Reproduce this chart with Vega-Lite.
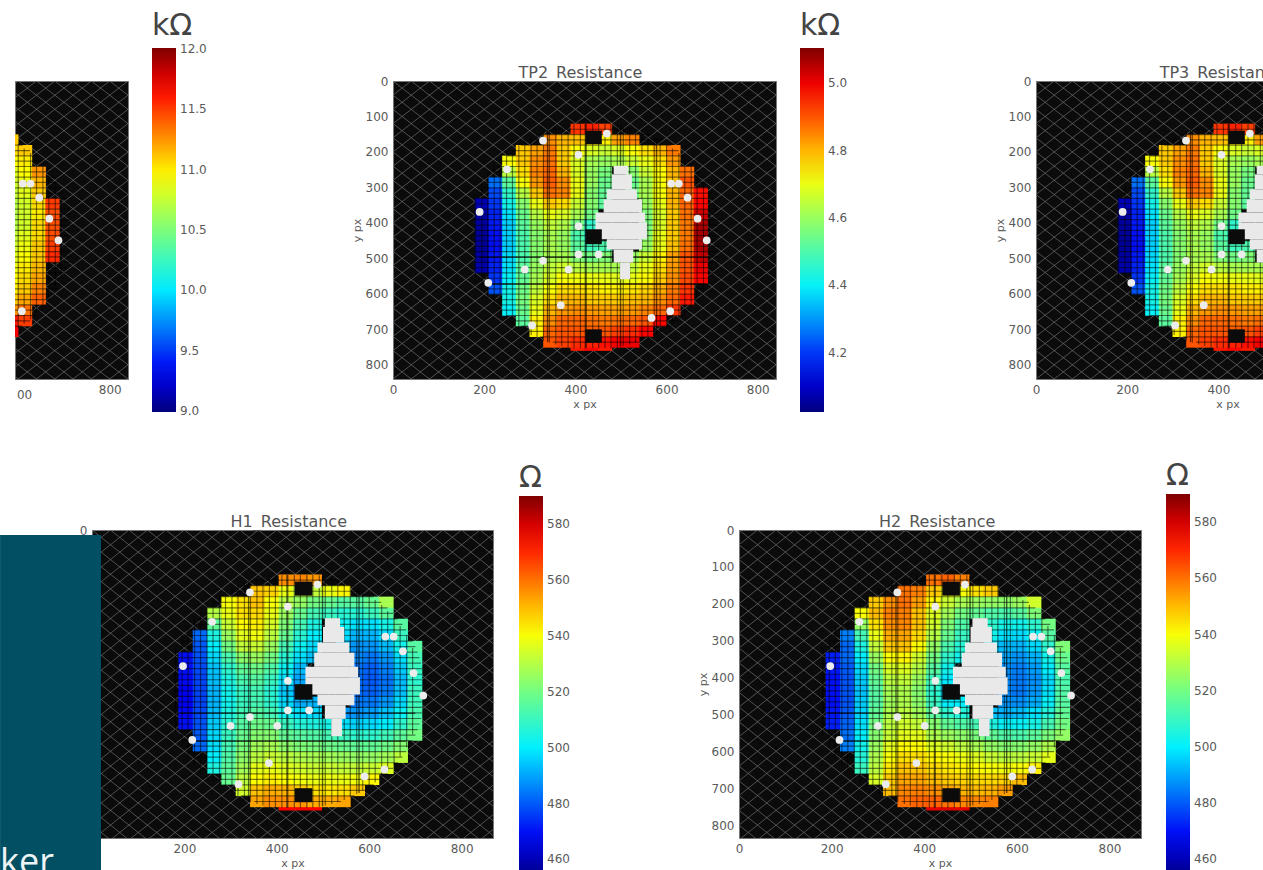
{"$schema":"https://vega.github.io/schema/vega-lite/v6.json","padding":{"left":-1,"top":10,"right":0,"bottom":0},"background":"white",
"datasets":{
"hatch":[{"x":0,"y":40,"x2":900,"y2":-860},{"x":0,"y":80,"x2":900,"y2":-820},{"x":0,"y":120,"x2":900,"y2":-780},{"x":0,"y":160,"x2":900,"y2":-740},{"x":0,"y":200,"x2":900,"y2":-700},{"x":0,"y":240,"x2":900,"y2":-660},{"x":0,"y":280,"x2":900,"y2":-620},{"x":0,"y":320,"x2":900,"y2":-580},{"x":0,"y":360,"x2":900,"y2":-540},{"x":0,"y":400,"x2":900,"y2":-500},{"x":0,"y":440,"x2":900,"y2":-460},{"x":0,"y":480,"x2":900,"y2":-420},{"x":0,"y":520,"x2":900,"y2":-380},{"x":0,"y":560,"x2":900,"y2":-340},{"x":0,"y":600,"x2":900,"y2":-300},{"x":0,"y":640,"x2":900,"y2":-260},{"x":0,"y":680,"x2":900,"y2":-220},{"x":0,"y":720,"x2":900,"y2":-180},{"x":0,"y":760,"x2":900,"y2":-140},{"x":0,"y":800,"x2":900,"y2":-100},{"x":0,"y":840,"x2":900,"y2":-60},{"x":0,"y":880,"x2":900,"y2":-20},{"x":0,"y":920,"x2":900,"y2":20},{"x":0,"y":960,"x2":900,"y2":60},{"x":0,"y":1000,"x2":900,"y2":100},{"x":0,"y":1040,"x2":900,"y2":140},{"x":0,"y":1080,"x2":900,"y2":180},{"x":0,"y":1120,"x2":900,"y2":220},{"x":0,"y":1160,"x2":900,"y2":260},{"x":0,"y":1200,"x2":900,"y2":300},{"x":0,"y":1240,"x2":900,"y2":340},{"x":0,"y":1280,"x2":900,"y2":380},{"x":0,"y":1320,"x2":900,"y2":420},{"x":0,"y":1360,"x2":900,"y2":460},{"x":0,"y":1400,"x2":900,"y2":500},{"x":0,"y":1440,"x2":900,"y2":540},{"x":0,"y":1480,"x2":900,"y2":580},{"x":0,"y":1520,"x2":900,"y2":620},{"x":0,"y":1560,"x2":900,"y2":660},{"x":0,"y":1600,"x2":900,"y2":700},{"x":0,"y":1640,"x2":900,"y2":740},{"x":0,"y":1680,"x2":900,"y2":780},{"x":0,"y":1720,"x2":900,"y2":820},{"x":0,"y":-880,"x2":900,"y2":20},{"x":0,"y":-840,"x2":900,"y2":60},{"x":0,"y":-800,"x2":900,"y2":100},{"x":0,"y":-760,"x2":900,"y2":140},{"x":0,"y":-720,"x2":900,"y2":180},{"x":0,"y":-680,"x2":900,"y2":220},{"x":0,"y":-640,"x2":900,"y2":260},{"x":0,"y":-600,"x2":900,"y2":300},{"x":0,"y":-560,"x2":900,"y2":340},{"x":0,"y":-520,"x2":900,"y2":380},{"x":0,"y":-480,"x2":900,"y2":420},{"x":0,"y":-440,"x2":900,"y2":460},{"x":0,"y":-400,"x2":900,"y2":500},{"x":0,"y":-360,"x2":900,"y2":540},{"x":0,"y":-320,"x2":900,"y2":580},{"x":0,"y":-280,"x2":900,"y2":620},{"x":0,"y":-240,"x2":900,"y2":660},{"x":0,"y":-200,"x2":900,"y2":700},{"x":0,"y":-160,"x2":900,"y2":740},{"x":0,"y":-120,"x2":900,"y2":780},{"x":0,"y":-80,"x2":900,"y2":820},{"x":0,"y":-40,"x2":900,"y2":860},{"x":0,"y":0,"x2":900,"y2":900},{"x":0,"y":40,"x2":900,"y2":940},{"x":0,"y":80,"x2":900,"y2":980},{"x":0,"y":120,"x2":900,"y2":1020},{"x":0,"y":160,"x2":900,"y2":1060},{"x":0,"y":200,"x2":900,"y2":1100},{"x":0,"y":240,"x2":900,"y2":1140},{"x":0,"y":280,"x2":900,"y2":1180},{"x":0,"y":320,"x2":900,"y2":1220},{"x":0,"y":360,"x2":900,"y2":1260},{"x":0,"y":400,"x2":900,"y2":1300},{"x":0,"y":440,"x2":900,"y2":1340},{"x":0,"y":480,"x2":900,"y2":1380},{"x":0,"y":520,"x2":900,"y2":1420},{"x":0,"y":560,"x2":900,"y2":1460},{"x":0,"y":600,"x2":900,"y2":1500},{"x":0,"y":640,"x2":900,"y2":1540},{"x":0,"y":680,"x2":900,"y2":1580},{"x":0,"y":720,"x2":900,"y2":1620},{"x":0,"y":760,"x2":900,"y2":1660},{"x":0,"y":800,"x2":900,"y2":1700},{"x":0,"y":840,"x2":900,"y2":1740}],
"gridV":[{"x":181,"y":320,"y2":554},{"x":195,"y":285,"y2":589},{"x":208,"y":260,"y2":614},{"x":222,"y":238,"y2":636},{"x":235,"y":220,"y2":654},{"x":249,"y":203,"y2":671},{"x":262,"y":190,"y2":684},{"x":276,"y":178,"y2":696},{"x":289,"y":167,"y2":707},{"x":303,"y":158,"y2":716},{"x":316,"y":150,"y2":724},{"x":330,"y":142,"y2":732},{"x":343,"y":136,"y2":738},{"x":357,"y":131,"y2":743},{"x":370,"y":127,"y2":747},{"x":384,"y":123,"y2":751},{"x":397,"y":121,"y2":753},{"x":411,"y":121,"y2":753},{"x":424,"y":121,"y2":753},{"x":438,"y":121,"y2":753},{"x":451,"y":121,"y2":753},{"x":465,"y":121,"y2":753},{"x":478,"y":121,"y2":753},{"x":492,"y":123,"y2":751},{"x":505,"y":127,"y2":747},{"x":519,"y":131,"y2":743},{"x":532,"y":136,"y2":738},{"x":546,"y":142,"y2":732},{"x":559,"y":150,"y2":724},{"x":573,"y":158,"y2":716},{"x":586,"y":167,"y2":707},{"x":600,"y":178,"y2":696},{"x":613,"y":190,"y2":684},{"x":627,"y":203,"y2":671},{"x":640,"y":220,"y2":654},{"x":654,"y":238,"y2":636},{"x":667,"y":260,"y2":614},{"x":681,"y":285,"y2":589},{"x":694,"y":320,"y2":554}],
"gridH":[{"y":136,"x":351,"x2":539},{"y":151,"x":322,"x2":568},{"y":166,"x":299,"x2":591},{"y":181,"x":280,"x2":610},{"y":196,"x":264,"x2":626},{"y":211,"x":250,"x2":640},{"y":226,"x":238,"x2":652},{"y":241,"x":228,"x2":662},{"y":256,"x":218,"x2":672},{"y":271,"x":210,"x2":680},{"y":286,"x":203,"x2":687},{"y":301,"x":196,"x2":694},{"y":316,"x":190,"x2":700},{"y":331,"x":185,"x2":705},{"y":346,"x":181,"x2":709},{"y":361,"x":178,"x2":712},{"y":376,"x":178,"x2":714},{"y":391,"x":178,"x2":714},{"y":406,"x":178,"x2":714},{"y":421,"x":178,"x2":714},{"y":436,"x":178,"x2":714},{"y":451,"x":178,"x2":714},{"y":466,"x":178,"x2":714},{"y":481,"x":178,"x2":714},{"y":496,"x":178,"x2":714},{"y":511,"x":178,"x2":712},{"y":526,"x":181,"x2":709},{"y":541,"x":185,"x2":705},{"y":556,"x":190,"x2":700},{"y":571,"x":196,"x2":694},{"y":586,"x":203,"x2":687},{"y":601,"x":210,"x2":680},{"y":616,"x":218,"x2":672},{"y":631,"x":228,"x2":662},{"y":646,"x":238,"x2":652},{"y":661,"x":250,"x2":640},{"y":676,"x":264,"x2":626},{"y":691,"x":280,"x2":610},{"y":706,"x":299,"x2":591},{"y":721,"x":322,"x2":568},{"y":736,"x":351,"x2":539}],
"heavyV":[{"x":339,"y":138,"y2":736},{"x":422,"y":121,"y2":753},{"x":499,"y":125,"y2":749},{"x":578,"y":161,"y2":713}],
"heavyH":[{"y":497,"x":190,"x2":700},{"y":573,"x":210,"x2":680}],
"dots":[{"x":329,"y":168},{"x":469,"y":148},{"x":407,"y":208},{"x":250,"y":249},{"x":610,"y":289},{"x":627,"y":289},{"x":646,"y":329},{"x":668,"y":388},{"x":688,"y":449},{"x":190,"y":369},{"x":209,"y":569},{"x":407,"y":409},{"x":407,"y":489},{"x":451,"y":489},{"x":329,"y":507},{"x":289,"y":531},{"x":385,"y":531},{"x":368,"y":632},{"x":567,"y":668},{"x":608,"y":649},{"x":305,"y":689}],
"dotsH":[{"x":342,"y":169},{"x":488,"y":148},{"x":424,"y":208},{"x":260,"y":249},{"x":635,"y":289},{"x":653,"y":289},{"x":673,"y":329},{"x":696,"y":388},{"x":717,"y":449},{"x":197,"y":369},{"x":217,"y":569},{"x":424,"y":409},{"x":424,"y":489},{"x":470,"y":489},{"x":342,"y":507},{"x":300,"y":531},{"x":401,"y":531},{"x":383,"y":632},{"x":590,"y":668},{"x":633,"y":649},{"x":317,"y":689}],
"void":[{"x":484,"x2":516,"y":239,"y2":263},{"x":480,"x2":524,"y":263,"y2":305},{"x":469,"x2":535,"y":305,"y2":333},{"x":462,"x2":546,"y":333,"y2":371},{"x":444,"x2":553,"y":371,"y2":399},{"x":444,"x2":557,"y":399,"y2":446},{"x":469,"x2":546,"y":446,"y2":475},{"x":484,"x2":527,"y":475,"y2":512},{"x":498,"x2":520,"y":512,"y2":559}],
"voidH":[{"x":504,"x2":537,"y":239,"y2":263},{"x":500,"x2":546,"y":263,"y2":305},{"x":488,"x2":557,"y":305,"y2":333},{"x":481,"x2":568,"y":333,"y2":371},{"x":462,"x2":576,"y":371,"y2":399},{"x":462,"x2":580,"y":399,"y2":446},{"x":488,"x2":568,"y":446,"y2":475},{"x":504,"x2":549,"y":475,"y2":512},{"x":518,"x2":541,"y":512,"y2":559}],
"die":[{"x":422,"x2":458,"y":140,"y2":178},{"x":422,"x2":458,"y":418,"y2":460},{"x":422,"x2":458,"y":700,"y2":738}],
"dieH":[{"x":439,"x2":477,"y":140,"y2":178},{"x":439,"x2":477,"y":418,"y2":460},{"x":439,"x2":477,"y":700,"y2":738}],
"tp2":[{"x":405,"y":745,"v":4.96},{"x":435,"y":745,"v":4.98},{"x":465,"y":745,"v":4.96},
{"x":405,"y":136,"v":4.93},{"x":435,"y":136,"v":4.95},{"x":465,"y":136,"v":4.92},
{"x":345,"y":166,"v":4.84},{"x":375,"y":166,"v":4.8},{"x":405,"y":166,"v":4.79},{"x":435,"y":166,"v":4.76},{"x":465,"y":166,"v":4.74},{"x":495,"y":166,"v":4.82},{"x":525,"y":166,"v":4.85},
{"x":285,"y":196,"v":4.78},{"x":315,"y":196,"v":4.82},{"x":345,"y":196,"v":4.86},{"x":375,"y":196,"v":4.78},{"x":405,"y":196,"v":4.72},{"x":435,"y":196,"v":4.68},{"x":465,"y":196,"v":4.66},{"x":495,"y":196,"v":4.68},{"x":525,"y":196,"v":4.72},{"x":555,"y":196,"v":4.76},{"x":585,"y":196,"v":4.8},{"x":615,"y":196,"v":4.86},
{"x":255,"y":226,"v":4.72},{"x":285,"y":226,"v":4.78},{"x":315,"y":226,"v":4.84},{"x":345,"y":226,"v":4.87},{"x":375,"y":226,"v":4.78},{"x":405,"y":226,"v":4.68},{"x":435,"y":226,"v":4.62},{"x":465,"y":226,"v":4.6},{"x":495,"y":226,"v":4.62},{"x":525,"y":226,"v":4.66},{"x":555,"y":226,"v":4.7},{"x":585,"y":226,"v":4.76},{"x":615,"y":226,"v":4.83},
{"x":255,"y":256,"v":4.64},{"x":285,"y":256,"v":4.76},{"x":315,"y":256,"v":4.85},{"x":345,"y":256,"v":4.88},{"x":375,"y":256,"v":4.8},{"x":405,"y":256,"v":4.68},{"x":435,"y":256,"v":4.6},{"x":465,"y":256,"v":4.56},{"x":525,"y":256,"v":4.58},{"x":555,"y":256,"v":4.66},{"x":585,"y":256,"v":4.73},{"x":615,"y":256,"v":4.8},{"x":645,"y":256,"v":4.87},
{"x":225,"y":286,"v":4.26},{"x":255,"y":286,"v":4.52},{"x":285,"y":286,"v":4.72},{"x":315,"y":286,"v":4.83},{"x":345,"y":286,"v":4.89},{"x":375,"y":286,"v":4.84},{"x":405,"y":286,"v":4.7},{"x":435,"y":286,"v":4.6},{"x":465,"y":286,"v":4.54},{"x":525,"y":286,"v":4.54},{"x":555,"y":286,"v":4.62},{"x":585,"y":286,"v":4.72},{"x":615,"y":286,"v":4.79},{"x":645,"y":286,"v":4.9},
{"x":225,"y":316,"v":4.22},{"x":255,"y":316,"v":4.46},{"x":285,"y":316,"v":4.64},{"x":315,"y":316,"v":4.78},{"x":345,"y":316,"v":4.87},{"x":375,"y":316,"v":4.85},{"x":405,"y":316,"v":4.7},{"x":435,"y":316,"v":4.58},{"x":465,"y":316,"v":4.53},{"x":525,"y":316,"v":4.55},{"x":555,"y":316,"v":4.62},{"x":585,"y":316,"v":4.72},{"x":615,"y":316,"v":4.8},{"x":645,"y":316,"v":4.88},{"x":675,"y":316,"v":4.97},
{"x":195,"y":346,"v":4.08},{"x":225,"y":346,"v":4.2},{"x":255,"y":346,"v":4.42},{"x":285,"y":346,"v":4.58},{"x":315,"y":346,"v":4.7},{"x":345,"y":346,"v":4.78},{"x":375,"y":346,"v":4.76},{"x":405,"y":346,"v":4.66},{"x":435,"y":346,"v":4.58},{"x":465,"y":346,"v":4.52},{"x":555,"y":346,"v":4.6},{"x":585,"y":346,"v":4.7},{"x":615,"y":346,"v":4.8},{"x":645,"y":346,"v":4.88},{"x":675,"y":346,"v":4.98},
{"x":195,"y":376,"v":4.06},{"x":225,"y":376,"v":4.18},{"x":255,"y":376,"v":4.38},{"x":285,"y":376,"v":4.54},{"x":315,"y":376,"v":4.64},{"x":345,"y":376,"v":4.7},{"x":375,"y":376,"v":4.68},{"x":405,"y":376,"v":4.62},{"x":435,"y":376,"v":4.55},{"x":555,"y":376,"v":4.57},{"x":585,"y":376,"v":4.68},{"x":615,"y":376,"v":4.78},{"x":645,"y":376,"v":4.87},{"x":675,"y":376,"v":5.03},
{"x":195,"y":406,"v":4.06},{"x":225,"y":406,"v":4.17},{"x":255,"y":406,"v":4.36},{"x":285,"y":406,"v":4.52},{"x":315,"y":406,"v":4.6},{"x":345,"y":406,"v":4.65},{"x":375,"y":406,"v":4.63},{"x":405,"y":406,"v":4.55},{"x":435,"y":406,"v":4.46},{"x":555,"y":406,"v":4.56},{"x":585,"y":406,"v":4.68},{"x":615,"y":406,"v":4.78},{"x":645,"y":406,"v":4.86},{"x":675,"y":406,"v":5.06},
{"x":195,"y":436,"v":4.05},{"x":225,"y":436,"v":4.16},{"x":255,"y":436,"v":4.36},{"x":285,"y":436,"v":4.5},{"x":315,"y":436,"v":4.58},{"x":345,"y":436,"v":4.62},{"x":375,"y":436,"v":4.6},{"x":405,"y":436,"v":4.5},{"x":435,"y":436,"v":4.45},{"x":555,"y":436,"v":4.58},{"x":585,"y":436,"v":4.7},{"x":615,"y":436,"v":4.78},{"x":645,"y":436,"v":4.86},{"x":675,"y":436,"v":5.07},
{"x":195,"y":466,"v":4.05},{"x":225,"y":466,"v":4.16},{"x":255,"y":466,"v":4.36},{"x":285,"y":466,"v":4.5},{"x":315,"y":466,"v":4.58},{"x":345,"y":466,"v":4.62},{"x":375,"y":466,"v":4.6},{"x":405,"y":466,"v":4.52},{"x":435,"y":466,"v":4.48},{"x":465,"y":466,"v":4.5},{"x":555,"y":466,"v":4.6},{"x":585,"y":466,"v":4.7},{"x":615,"y":466,"v":4.79},{"x":645,"y":466,"v":4.87},{"x":675,"y":466,"v":5.06},
{"x":195,"y":496,"v":4.06},{"x":225,"y":496,"v":4.17},{"x":255,"y":496,"v":4.37},{"x":285,"y":496,"v":4.5},{"x":315,"y":496,"v":4.58},{"x":345,"y":496,"v":4.62},{"x":375,"y":496,"v":4.62},{"x":405,"y":496,"v":4.57},{"x":435,"y":496,"v":4.55},{"x":465,"y":496,"v":4.57},{"x":525,"y":496,"v":4.6},{"x":555,"y":496,"v":4.66},{"x":585,"y":496,"v":4.74},{"x":615,"y":496,"v":4.82},{"x":645,"y":496,"v":4.9},{"x":675,"y":496,"v":5.04},
{"x":195,"y":526,"v":4.07},{"x":225,"y":526,"v":4.18},{"x":255,"y":526,"v":4.38},{"x":285,"y":526,"v":4.52},{"x":315,"y":526,"v":4.6},{"x":345,"y":526,"v":4.65},{"x":375,"y":526,"v":4.67},{"x":405,"y":526,"v":4.64},{"x":435,"y":526,"v":4.62},{"x":465,"y":526,"v":4.62},{"x":495,"y":526,"v":4.62},{"x":525,"y":526,"v":4.66},{"x":555,"y":526,"v":4.7},{"x":585,"y":526,"v":4.76},{"x":615,"y":526,"v":4.83},{"x":645,"y":526,"v":4.9},{"x":675,"y":526,"v":5.0},
{"x":225,"y":556,"v":4.2},{"x":255,"y":556,"v":4.4},{"x":285,"y":556,"v":4.53},{"x":315,"y":556,"v":4.62},{"x":345,"y":556,"v":4.68},{"x":375,"y":556,"v":4.72},{"x":405,"y":556,"v":4.71},{"x":435,"y":556,"v":4.7},{"x":465,"y":556,"v":4.7},{"x":495,"y":556,"v":4.69},{"x":525,"y":556,"v":4.7},{"x":555,"y":556,"v":4.73},{"x":585,"y":556,"v":4.78},{"x":615,"y":556,"v":4.84},{"x":645,"y":556,"v":4.91},{"x":675,"y":556,"v":4.98},
{"x":225,"y":586,"v":4.23},{"x":255,"y":586,"v":4.42},{"x":285,"y":586,"v":4.55},{"x":315,"y":586,"v":4.65},{"x":345,"y":586,"v":4.72},{"x":375,"y":586,"v":4.76},{"x":405,"y":586,"v":4.76},{"x":435,"y":586,"v":4.75},{"x":465,"y":586,"v":4.74},{"x":495,"y":586,"v":4.74},{"x":525,"y":586,"v":4.75},{"x":555,"y":586,"v":4.77},{"x":585,"y":586,"v":4.81},{"x":615,"y":586,"v":4.86},{"x":645,"y":586,"v":4.93},
{"x":255,"y":616,"v":4.42},{"x":285,"y":616,"v":4.56},{"x":315,"y":616,"v":4.68},{"x":345,"y":616,"v":4.76},{"x":375,"y":616,"v":4.8},{"x":405,"y":616,"v":4.8},{"x":435,"y":616,"v":4.78},{"x":465,"y":616,"v":4.78},{"x":495,"y":616,"v":4.78},{"x":525,"y":616,"v":4.79},{"x":555,"y":616,"v":4.8},{"x":585,"y":616,"v":4.84},{"x":615,"y":616,"v":4.88},{"x":645,"y":616,"v":4.96},
{"x":255,"y":646,"v":4.4},{"x":285,"y":646,"v":4.54},{"x":315,"y":646,"v":4.7},{"x":345,"y":646,"v":4.8},{"x":375,"y":646,"v":4.83},{"x":405,"y":646,"v":4.84},{"x":435,"y":646,"v":4.83},{"x":465,"y":646,"v":4.82},{"x":495,"y":646,"v":4.82},{"x":525,"y":646,"v":4.83},{"x":555,"y":646,"v":4.85},{"x":585,"y":646,"v":4.88},{"x":615,"y":646,"v":4.93},
{"x":285,"y":676,"v":4.52},{"x":315,"y":676,"v":4.74},{"x":345,"y":676,"v":4.84},{"x":375,"y":676,"v":4.88},{"x":405,"y":676,"v":4.88},{"x":435,"y":676,"v":4.87},{"x":465,"y":676,"v":4.86},{"x":495,"y":676,"v":4.87},{"x":525,"y":676,"v":4.88},{"x":555,"y":676,"v":4.9},{"x":585,"y":676,"v":4.98},
{"x":315,"y":706,"v":4.74},{"x":345,"y":706,"v":4.88},{"x":375,"y":706,"v":4.9},{"x":405,"y":706,"v":4.9},{"x":435,"y":706,"v":4.89},{"x":465,"y":706,"v":4.9},{"x":495,"y":706,"v":4.92},{"x":525,"y":706,"v":4.94},{"x":555,"y":706,"v":4.98},
{"x":345,"y":736,"v":4.9},{"x":375,"y":736,"v":4.92},{"x":405,"y":736,"v":4.94},{"x":435,"y":736,"v":4.95},{"x":465,"y":736,"v":4.97},{"x":495,"y":736,"v":4.99},{"x":525,"y":736,"v":5.0}],
"h1":[{"x":420,"y":745,"v":575},{"x":451,"y":745,"v":576},{"x":482,"y":745,"v":575},
{"x":420,"y":136,"v":556},{"x":451,"y":136,"v":557},{"x":482,"y":136,"v":555},
{"x":358,"y":166,"v":549},{"x":389,"y":166,"v":547},{"x":420,"y":166,"v":538},{"x":451,"y":166,"v":532},{"x":482,"y":166,"v":532},{"x":513,"y":166,"v":538},{"x":544,"y":166,"v":542},
{"x":296,"y":196,"v":540},{"x":327,"y":196,"v":545},{"x":358,"y":196,"v":549},{"x":389,"y":196,"v":540},{"x":420,"y":196,"v":530},{"x":451,"y":196,"v":525},{"x":482,"y":196,"v":520},{"x":513,"y":196,"v":518},{"x":544,"y":196,"v":515},{"x":575,"y":196,"v":515},{"x":606,"y":196,"v":518},{"x":637,"y":196,"v":528},
{"x":265,"y":226,"v":530},{"x":296,"y":226,"v":538},{"x":327,"y":226,"v":545},{"x":358,"y":226,"v":546},{"x":389,"y":226,"v":538},{"x":420,"y":226,"v":526},{"x":451,"y":226,"v":518},{"x":482,"y":226,"v":512},{"x":513,"y":226,"v":510},{"x":544,"y":226,"v":507},{"x":575,"y":226,"v":507},{"x":606,"y":226,"v":510},{"x":637,"y":226,"v":516},
{"x":265,"y":256,"v":517},{"x":296,"y":256,"v":533},{"x":327,"y":256,"v":541},{"x":358,"y":256,"v":543},{"x":389,"y":256,"v":535},{"x":420,"y":256,"v":522},{"x":451,"y":256,"v":512},{"x":482,"y":256,"v":505},{"x":544,"y":256,"v":502},{"x":575,"y":256,"v":498},{"x":606,"y":256,"v":498},{"x":637,"y":256,"v":504},{"x":668,"y":256,"v":515},
{"x":234,"y":286,"v":482},{"x":265,"y":286,"v":505},{"x":296,"y":286,"v":526},{"x":327,"y":286,"v":537},{"x":358,"y":286,"v":539},{"x":389,"y":286,"v":531},{"x":420,"y":286,"v":518},{"x":451,"y":286,"v":507},{"x":482,"y":286,"v":500},{"x":544,"y":286,"v":497},{"x":575,"y":286,"v":492},{"x":606,"y":286,"v":492},{"x":637,"y":286,"v":497},{"x":668,"y":286,"v":510},
{"x":234,"y":316,"v":480},{"x":265,"y":316,"v":500},{"x":296,"y":316,"v":520},{"x":327,"y":316,"v":532},{"x":358,"y":316,"v":533},{"x":389,"y":316,"v":526},{"x":420,"y":316,"v":512},{"x":451,"y":316,"v":502},{"x":482,"y":316,"v":497},{"x":544,"y":316,"v":493},{"x":575,"y":316,"v":488},{"x":606,"y":316,"v":488},{"x":637,"y":316,"v":493},{"x":668,"y":316,"v":503},{"x":699,"y":316,"v":515},
{"x":203,"y":346,"v":470},{"x":234,"y":346,"v":479},{"x":265,"y":346,"v":497},{"x":296,"y":346,"v":513},{"x":327,"y":346,"v":524},{"x":358,"y":346,"v":526},{"x":389,"y":346,"v":520},{"x":420,"y":346,"v":507},{"x":451,"y":346,"v":498},{"x":482,"y":346,"v":494},{"x":575,"y":346,"v":486},{"x":606,"y":346,"v":484},{"x":637,"y":346,"v":488},{"x":668,"y":346,"v":498},{"x":699,"y":346,"v":512},
{"x":203,"y":376,"v":470},{"x":234,"y":376,"v":478},{"x":265,"y":376,"v":494},{"x":296,"y":376,"v":508},{"x":327,"y":376,"v":517},{"x":358,"y":376,"v":519},{"x":389,"y":376,"v":514},{"x":420,"y":376,"v":502},{"x":451,"y":376,"v":493},{"x":575,"y":376,"v":483},{"x":606,"y":376,"v":481},{"x":637,"y":376,"v":485},{"x":668,"y":376,"v":495},{"x":699,"y":376,"v":510},
{"x":203,"y":406,"v":469},{"x":234,"y":406,"v":477},{"x":265,"y":406,"v":493},{"x":296,"y":406,"v":505},{"x":327,"y":406,"v":513},{"x":358,"y":406,"v":515},{"x":389,"y":406,"v":510},{"x":420,"y":406,"v":498},{"x":451,"y":406,"v":490},{"x":575,"y":406,"v":482},{"x":606,"y":406,"v":480},{"x":637,"y":406,"v":483},{"x":668,"y":406,"v":493},{"x":699,"y":406,"v":508},
{"x":203,"y":436,"v":468},{"x":234,"y":436,"v":477},{"x":265,"y":436,"v":492},{"x":296,"y":436,"v":503},{"x":327,"y":436,"v":510},{"x":358,"y":436,"v":512},{"x":389,"y":436,"v":507},{"x":420,"y":436,"v":495},{"x":451,"y":436,"v":488},{"x":575,"y":436,"v":482},{"x":606,"y":436,"v":481},{"x":637,"y":436,"v":484},{"x":668,"y":436,"v":494},{"x":699,"y":436,"v":510},
{"x":203,"y":466,"v":468},{"x":234,"y":466,"v":477},{"x":265,"y":466,"v":492},{"x":296,"y":466,"v":503},{"x":327,"y":466,"v":510},{"x":358,"y":466,"v":512},{"x":389,"y":466,"v":508},{"x":420,"y":466,"v":497},{"x":451,"y":466,"v":491},{"x":482,"y":466,"v":492},{"x":575,"y":466,"v":484},{"x":606,"y":466,"v":484},{"x":637,"y":466,"v":488},{"x":668,"y":466,"v":497},{"x":699,"y":466,"v":511},
{"x":203,"y":496,"v":469},{"x":234,"y":496,"v":478},{"x":265,"y":496,"v":493},{"x":296,"y":496,"v":505},{"x":327,"y":496,"v":512},{"x":358,"y":496,"v":515},{"x":389,"y":496,"v":512},{"x":420,"y":496,"v":503},{"x":451,"y":496,"v":498},{"x":482,"y":496,"v":497},{"x":544,"y":496,"v":488},{"x":575,"y":496,"v":488},{"x":606,"y":496,"v":489},{"x":637,"y":496,"v":494},{"x":668,"y":496,"v":502},{"x":699,"y":496,"v":513},
{"x":203,"y":526,"v":470},{"x":234,"y":526,"v":479},{"x":265,"y":526,"v":495},{"x":296,"y":526,"v":507},{"x":327,"y":526,"v":515},{"x":358,"y":526,"v":519},{"x":389,"y":526,"v":518},{"x":420,"y":526,"v":510},{"x":451,"y":526,"v":506},{"x":482,"y":526,"v":505},{"x":513,"y":526,"v":504},{"x":544,"y":526,"v":498},{"x":575,"y":526,"v":496},{"x":606,"y":526,"v":497},{"x":637,"y":526,"v":500},{"x":668,"y":526,"v":508},{"x":699,"y":526,"v":516},
{"x":234,"y":556,"v":480},{"x":265,"y":556,"v":497},{"x":296,"y":556,"v":510},{"x":327,"y":556,"v":518},{"x":358,"y":556,"v":523},{"x":389,"y":556,"v":523},{"x":420,"y":556,"v":517},{"x":451,"y":556,"v":515},{"x":482,"y":556,"v":514},{"x":513,"y":556,"v":512},{"x":544,"y":556,"v":510},{"x":575,"y":556,"v":508},{"x":606,"y":556,"v":508},{"x":637,"y":556,"v":511},{"x":668,"y":556,"v":516},{"x":699,"y":556,"v":520},
{"x":234,"y":586,"v":482},{"x":265,"y":586,"v":498},{"x":296,"y":586,"v":512},{"x":327,"y":586,"v":521},{"x":358,"y":586,"v":527},{"x":389,"y":586,"v":528},{"x":420,"y":586,"v":524},{"x":451,"y":586,"v":522},{"x":482,"y":586,"v":521},{"x":513,"y":586,"v":519},{"x":544,"y":586,"v":518},{"x":575,"y":586,"v":517},{"x":606,"y":586,"v":517},{"x":637,"y":586,"v":519},{"x":668,"y":586,"v":523},
{"x":265,"y":616,"v":500},{"x":296,"y":616,"v":514},{"x":327,"y":616,"v":524},{"x":358,"y":616,"v":531},{"x":389,"y":616,"v":533},{"x":420,"y":616,"v":531},{"x":451,"y":616,"v":529},{"x":482,"y":616,"v":528},{"x":513,"y":616,"v":527},{"x":544,"y":616,"v":526},{"x":575,"y":616,"v":525},{"x":606,"y":616,"v":525},{"x":637,"y":616,"v":527},{"x":668,"y":616,"v":531},
{"x":265,"y":646,"v":505},{"x":296,"y":646,"v":516},{"x":327,"y":646,"v":527},{"x":358,"y":646,"v":537},{"x":389,"y":646,"v":538},{"x":420,"y":646,"v":536},{"x":451,"y":646,"v":534},{"x":482,"y":646,"v":533},{"x":513,"y":646,"v":533},{"x":544,"y":646,"v":532},{"x":575,"y":646,"v":532},{"x":606,"y":646,"v":533},{"x":637,"y":646,"v":536},
{"x":296,"y":676,"v":518},{"x":327,"y":676,"v":531},{"x":358,"y":676,"v":541},{"x":389,"y":676,"v":543},{"x":420,"y":676,"v":541},{"x":451,"y":676,"v":539},{"x":482,"y":676,"v":538},{"x":513,"y":676,"v":538},{"x":544,"y":676,"v":538},{"x":575,"y":676,"v":539},{"x":606,"y":676,"v":542},
{"x":327,"y":706,"v":534},{"x":358,"y":706,"v":549},{"x":389,"y":706,"v":552},{"x":420,"y":706,"v":551},{"x":451,"y":706,"v":548},{"x":482,"y":706,"v":545},{"x":513,"y":706,"v":544},{"x":544,"y":706,"v":545},{"x":575,"y":706,"v":548},
{"x":358,"y":736,"v":553},{"x":389,"y":736,"v":556},{"x":420,"y":736,"v":556},{"x":451,"y":736,"v":555},{"x":482,"y":736,"v":552},{"x":513,"y":736,"v":552},{"x":544,"y":736,"v":553}],
"h2":[{"x":420,"y":745,"v":578},{"x":451,"y":745,"v":579},{"x":482,"y":745,"v":578},
{"x":420,"y":136,"v":560},{"x":451,"y":136,"v":562},{"x":482,"y":136,"v":558},
{"x":358,"y":166,"v":560},{"x":389,"y":166,"v":558},{"x":420,"y":166,"v":548},{"x":451,"y":166,"v":540},{"x":482,"y":166,"v":540},{"x":513,"y":166,"v":545},{"x":544,"y":166,"v":548},
{"x":296,"y":196,"v":548},{"x":327,"y":196,"v":556},{"x":358,"y":196,"v":560},{"x":389,"y":196,"v":554},{"x":420,"y":196,"v":542},{"x":451,"y":196,"v":533},{"x":482,"y":196,"v":528},{"x":513,"y":196,"v":526},{"x":544,"y":196,"v":525},{"x":575,"y":196,"v":524},{"x":606,"y":196,"v":526},{"x":637,"y":196,"v":534},
{"x":265,"y":226,"v":540},{"x":296,"y":226,"v":550},{"x":327,"y":226,"v":558},{"x":358,"y":226,"v":558},{"x":389,"y":226,"v":549},{"x":420,"y":226,"v":536},{"x":451,"y":226,"v":527},{"x":482,"y":226,"v":520},{"x":513,"y":226,"v":517},{"x":544,"y":226,"v":514},{"x":575,"y":226,"v":513},{"x":606,"y":226,"v":515},{"x":637,"y":226,"v":522},
{"x":265,"y":256,"v":525},{"x":296,"y":256,"v":545},{"x":327,"y":256,"v":556},{"x":358,"y":256,"v":557},{"x":389,"y":256,"v":549},{"x":420,"y":256,"v":534},{"x":451,"y":256,"v":522},{"x":482,"y":256,"v":514},{"x":544,"y":256,"v":508},{"x":575,"y":256,"v":504},{"x":606,"y":256,"v":503},{"x":637,"y":256,"v":508},{"x":668,"y":256,"v":520},
{"x":234,"y":286,"v":485},{"x":265,"y":286,"v":512},{"x":296,"y":286,"v":538},{"x":327,"y":286,"v":552},{"x":358,"y":286,"v":553},{"x":389,"y":286,"v":546},{"x":420,"y":286,"v":530},{"x":451,"y":286,"v":518},{"x":482,"y":286,"v":510},{"x":544,"y":286,"v":503},{"x":575,"y":286,"v":498},{"x":606,"y":286,"v":497},{"x":637,"y":286,"v":502},{"x":668,"y":286,"v":515},
{"x":234,"y":316,"v":482},{"x":265,"y":316,"v":505},{"x":296,"y":316,"v":532},{"x":327,"y":316,"v":548},{"x":358,"y":316,"v":549},{"x":389,"y":316,"v":541},{"x":420,"y":316,"v":525},{"x":451,"y":316,"v":513},{"x":482,"y":316,"v":507},{"x":544,"y":316,"v":499},{"x":575,"y":316,"v":493},{"x":606,"y":316,"v":492},{"x":637,"y":316,"v":497},{"x":668,"y":316,"v":508},{"x":699,"y":316,"v":522},
{"x":203,"y":346,"v":472},{"x":234,"y":346,"v":482},{"x":265,"y":346,"v":500},{"x":296,"y":346,"v":526},{"x":327,"y":346,"v":541},{"x":358,"y":346,"v":542},{"x":389,"y":346,"v":534},{"x":420,"y":346,"v":520},{"x":451,"y":346,"v":508},{"x":482,"y":346,"v":503},{"x":575,"y":346,"v":490},{"x":606,"y":346,"v":488},{"x":637,"y":346,"v":492},{"x":668,"y":346,"v":503},{"x":699,"y":346,"v":518},
{"x":203,"y":376,"v":471},{"x":234,"y":376,"v":480},{"x":265,"y":376,"v":497},{"x":296,"y":376,"v":520},{"x":327,"y":376,"v":535},{"x":358,"y":376,"v":536},{"x":389,"y":376,"v":530},{"x":420,"y":376,"v":515},{"x":451,"y":376,"v":503},{"x":575,"y":376,"v":487},{"x":606,"y":376,"v":485},{"x":637,"y":376,"v":489},{"x":668,"y":376,"v":500},{"x":699,"y":376,"v":515},
{"x":203,"y":406,"v":470},{"x":234,"y":406,"v":479},{"x":265,"y":406,"v":495},{"x":296,"y":406,"v":517},{"x":327,"y":406,"v":531},{"x":358,"y":406,"v":532},{"x":389,"y":406,"v":526},{"x":420,"y":406,"v":511},{"x":451,"y":406,"v":499},{"x":575,"y":406,"v":486},{"x":606,"y":406,"v":484},{"x":637,"y":406,"v":487},{"x":668,"y":406,"v":497},{"x":699,"y":406,"v":513},
{"x":203,"y":436,"v":470},{"x":234,"y":436,"v":479},{"x":265,"y":436,"v":494},{"x":296,"y":436,"v":515},{"x":327,"y":436,"v":528},{"x":358,"y":436,"v":529},{"x":389,"y":436,"v":523},{"x":420,"y":436,"v":508},{"x":451,"y":436,"v":497},{"x":575,"y":436,"v":486},{"x":606,"y":436,"v":484},{"x":637,"y":436,"v":488},{"x":668,"y":436,"v":498},{"x":699,"y":436,"v":514},
{"x":203,"y":466,"v":470},{"x":234,"y":466,"v":479},{"x":265,"y":466,"v":495},{"x":296,"y":466,"v":515},{"x":327,"y":466,"v":527},{"x":358,"y":466,"v":529},{"x":389,"y":466,"v":524},{"x":420,"y":466,"v":510},{"x":451,"y":466,"v":500},{"x":482,"y":466,"v":500},{"x":575,"y":466,"v":488},{"x":606,"y":466,"v":487},{"x":637,"y":466,"v":491},{"x":668,"y":466,"v":501},{"x":699,"y":466,"v":515},
{"x":203,"y":496,"v":471},{"x":234,"y":496,"v":480},{"x":265,"y":496,"v":496},{"x":296,"y":496,"v":517},{"x":327,"y":496,"v":529},{"x":358,"y":496,"v":531},{"x":389,"y":496,"v":527},{"x":420,"y":496,"v":516},{"x":451,"y":496,"v":508},{"x":482,"y":496,"v":506},{"x":544,"y":496,"v":494},{"x":575,"y":496,"v":492},{"x":606,"y":496,"v":493},{"x":637,"y":496,"v":498},{"x":668,"y":496,"v":506},{"x":699,"y":496,"v":517},
{"x":203,"y":526,"v":472},{"x":234,"y":526,"v":481},{"x":265,"y":526,"v":498},{"x":296,"y":526,"v":520},{"x":327,"y":526,"v":531},{"x":358,"y":526,"v":534},{"x":389,"y":526,"v":532},{"x":420,"y":526,"v":523},{"x":451,"y":526,"v":517},{"x":482,"y":526,"v":514},{"x":513,"y":526,"v":512},{"x":544,"y":526,"v":505},{"x":575,"y":526,"v":501},{"x":606,"y":526,"v":501},{"x":637,"y":526,"v":504},{"x":668,"y":526,"v":512},{"x":699,"y":526,"v":520},
{"x":234,"y":556,"v":483},{"x":265,"y":556,"v":500},{"x":296,"y":556,"v":523},{"x":327,"y":556,"v":533},{"x":358,"y":556,"v":537},{"x":389,"y":556,"v":537},{"x":420,"y":556,"v":529},{"x":451,"y":556,"v":526},{"x":482,"y":556,"v":524},{"x":513,"y":556,"v":521},{"x":544,"y":556,"v":517},{"x":575,"y":556,"v":514},{"x":606,"y":556,"v":513},{"x":637,"y":556,"v":516},{"x":668,"y":556,"v":521},{"x":699,"y":556,"v":525},
{"x":234,"y":586,"v":485},{"x":265,"y":586,"v":503},{"x":296,"y":586,"v":526},{"x":327,"y":586,"v":537},{"x":358,"y":586,"v":541},{"x":389,"y":586,"v":541},{"x":420,"y":586,"v":536},{"x":451,"y":586,"v":534},{"x":482,"y":586,"v":531},{"x":513,"y":586,"v":528},{"x":544,"y":586,"v":525},{"x":575,"y":586,"v":523},{"x":606,"y":586,"v":523},{"x":637,"y":586,"v":525},{"x":668,"y":586,"v":529},
{"x":265,"y":616,"v":506},{"x":296,"y":616,"v":529},{"x":327,"y":616,"v":540},{"x":358,"y":616,"v":545},{"x":389,"y":616,"v":545},{"x":420,"y":616,"v":542},{"x":451,"y":616,"v":540},{"x":482,"y":616,"v":538},{"x":513,"y":616,"v":536},{"x":544,"y":616,"v":533},{"x":575,"y":616,"v":531},{"x":606,"y":616,"v":531},{"x":637,"y":616,"v":533},{"x":668,"y":616,"v":537},
{"x":265,"y":646,"v":510},{"x":296,"y":646,"v":531},{"x":327,"y":646,"v":544},{"x":358,"y":646,"v":549},{"x":389,"y":646,"v":549},{"x":420,"y":646,"v":546},{"x":451,"y":646,"v":544},{"x":482,"y":646,"v":543},{"x":513,"y":646,"v":541},{"x":544,"y":646,"v":540},{"x":575,"y":646,"v":539},{"x":606,"y":646,"v":540},{"x":637,"y":646,"v":543},
{"x":296,"y":676,"v":535},{"x":327,"y":676,"v":548},{"x":358,"y":676,"v":553},{"x":389,"y":676,"v":553},{"x":420,"y":676,"v":550},{"x":451,"y":676,"v":548},{"x":482,"y":676,"v":547},{"x":513,"y":676,"v":546},{"x":544,"y":676,"v":546},{"x":575,"y":676,"v":547},{"x":606,"y":676,"v":550},
{"x":327,"y":706,"v":550},{"x":358,"y":706,"v":557},{"x":389,"y":706,"v":558},{"x":420,"y":706,"v":556},{"x":451,"y":706,"v":553},{"x":482,"y":706,"v":551},{"x":513,"y":706,"v":550},{"x":544,"y":706,"v":551},{"x":575,"y":706,"v":554},
{"x":358,"y":736,"v":560},{"x":389,"y":736,"v":562},{"x":420,"y":736,"v":562},{"x":451,"y":736,"v":560},{"x":482,"y":736,"v":557},{"x":513,"y":736,"v":557},{"x":544,"y":736,"v":558}],
"left":[{"x":585,"y":166,"v":11.1},{"x":585,"y":196,"v":11.05},{"x":615,"y":196,"v":11.1},{"x":585,"y":226,"v":10.95},{"x":615,"y":226,"v":11.0},{"x":585,"y":256,"v":10.85},{"x":615,"y":256,"v":10.95},{"x":645,"y":256,"v":11.25},{"x":585,"y":286,"v":10.8},{"x":615,"y":286,"v":10.9},{"x":645,"y":286,"v":11.15},{"x":585,"y":316,"v":10.75},{"x":615,"y":316,"v":10.85},{"x":645,"y":316,"v":11.1},{"x":585,"y":346,"v":10.7},{"x":615,"y":346,"v":10.8},{"x":645,"y":346,"v":11.05},{"x":675,"y":346,"v":11.5},{"x":585,"y":376,"v":10.7},{"x":615,"y":376,"v":10.8},{"x":645,"y":376,"v":11.0},{"x":675,"y":376,"v":11.45},{"x":585,"y":406,"v":10.7},{"x":615,"y":406,"v":10.8},{"x":645,"y":406,"v":11.05},{"x":675,"y":406,"v":11.45},{"x":585,"y":436,"v":10.75},{"x":615,"y":436,"v":10.85},{"x":645,"y":436,"v":11.05},{"x":675,"y":436,"v":11.45},{"x":585,"y":466,"v":10.8},{"x":615,"y":466,"v":10.9},{"x":645,"y":466,"v":11.1},{"x":675,"y":466,"v":11.5},{"x":585,"y":496,"v":10.85},{"x":615,"y":496,"v":10.95},{"x":645,"y":496,"v":11.1},{"x":675,"y":496,"v":11.55},{"x":585,"y":526,"v":10.9},{"x":615,"y":526,"v":11.0},{"x":645,"y":526,"v":11.15},{"x":585,"y":556,"v":10.95},{"x":615,"y":556,"v":11.05},{"x":645,"y":556,"v":11.2},{"x":585,"y":586,"v":11.0},{"x":615,"y":586,"v":11.1},{"x":645,"y":586,"v":11.3},{"x":585,"y":616,"v":11.1},{"x":615,"y":616,"v":11.2},{"x":645,"y":616,"v":11.4},{"x":585,"y":646,"v":11.25},{"x":615,"y":646,"v":11.35},{"x":585,"y":676,"v":11.6},{"x":615,"y":676,"v":11.5},{"x":585,"y":706,"v":11.7}]
},
"vconcat":[
{"hconcat":[
{"width":113,"height":298,"view":{"fill":"#0b0b0b","stroke":"#777"},"encoding":{"x":{"field":"x","type":"quantitative","scale":{"domain":[593,840],"nice":false,"zero":false},"axis":{"values":[800],"title":null}},"y":{"field":"y","type":"quantitative","scale":{"domain":[0,840],"reverse":true,"nice":false,"zero":false},"axis":null}},"layer":[
{"data":{"values":[{"x":560,"y":0,"y2":983}]},"mark":{"type":"rule","opacity":0},"encoding":{"y2":{"field":"y2"}}},
{"data":{"name":"hatch"},"mark":{"type":"rule","clip":true,"color":"#6e6e6e","strokeWidth":0.7},"encoding":{"x2":{"field":"x2"},"y2":{"field":"y2"}}},
{"data":{"name":"left"},"mark":{"type":"rect","width":14.2,"height":11.1,"clip":true},"encoding":{"color":{"field":"v","type":"quantitative","scale":{"domain":[8.99,9.33,10.02,10.5,10.95,11.67,12.01],"range":["#00007f","#0000f5","#00f0ff","#7cff7a","#ffff00","#ff0000","#7f0000"],"interpolate":"rgb"},"legend":{"orient":"none","legendX":137,"legendY":-70,"title":"kΩ","titleFontSize":30,"titleFontWeight":"normal","titleColor":"#444","titlePadding":7,"gradientLength":364,"gradientThickness":24,"values":[9,9.5,10,10.5,11,11.5,12],"format":".1f","labelFontSize":12,"labelColor":"#5a5a5a","labelOffset":4,"labelOverlap":false}}}},
{"data":{"name":"gridV"},"mark":{"type":"rule","clip":true,"color":"#000","opacity":0.5,"strokeWidth":1.2},"encoding":{"y2":{"field":"y2"}}},
{"data":{"name":"gridH"},"mark":{"type":"rule","clip":true,"color":"#000","opacity":0.5,"strokeWidth":1.2},"encoding":{"x2":{"field":"x2"}}},
{"data":{"name":"dots"},"mark":{"type":"circle","size":60,"color":"#ececec","opacity":1,"clip":true}},
{"data":{"values":[{"x":614,"y":885,"t":"00"}]},"mark":{"type":"text","fontSize":12,"color":"#5a5a5a"},"encoding":{"text":{"field":"t"}}}
]},
{"width":245,"height":298,"view":{"stroke":null},"data":{"values":[{"x":0}]},"mark":{"type":"rule","opacity":0},"encoding":{}},
{"width":383,"height":298,"view":{"fill":"#0b0b0b","stroke":"#777"},"encoding":{"x":{"field":"x","type":"quantitative","scale":{"domain":[0,840],"nice":false,"zero":false},"axis":{"values":[0,200,400,600,800],"title":"x px"}},"y":{"field":"y","type":"quantitative","scale":{"domain":[0,840],"reverse":true,"nice":false,"zero":false},"axis":{"values":[0,100,200,300,400,500,600,700,800],"title":"y px"}}},"layer":[
{"data":{"name":"hatch"},"mark":{"type":"rule","clip":true,"color":"#6e6e6e","strokeWidth":0.7},"encoding":{"x2":{"field":"x2"},"y2":{"field":"y2"}}},
{"data":{"name":"tp2"},"mark":{"type":"rect","width":14.2,"height":11.1},"encoding":{"color":{"field":"v","type":"quantitative","scale":{"domain":[4.025,4.144,4.392,4.565,4.726,4.985,5.104],"range":["#00007f","#0000f5","#00f0ff","#7cff7a","#ffff00","#ff0000","#7f0000"],"interpolate":"rgb"},"legend":{"orient":"none","legendX":407,"legendY":-70,"title":"kΩ","titleFontSize":30,"titleFontWeight":"normal","titleColor":"#444","titlePadding":7,"gradientLength":364,"gradientThickness":24,"values":[4.2,4.4,4.6,4.8,5],"format":".1f","labelFontSize":12,"labelColor":"#5a5a5a","labelOffset":4,"labelOverlap":false}}}},
{"data":{"name":"gridV"},"mark":{"type":"rule","color":"#000","opacity":0.5,"strokeWidth":1.2},"encoding":{"y2":{"field":"y2"}}},
{"data":{"name":"gridH"},"mark":{"type":"rule","color":"#000","opacity":0.5,"strokeWidth":1.2},"encoding":{"x2":{"field":"x2"}}},
{"data":{"name":"heavyV"},"mark":{"type":"rule","color":"#000","opacity":0.6,"strokeWidth":1.4},"encoding":{"y2":{"field":"y2"}}},
{"data":{"name":"heavyH"},"mark":{"type":"rule","color":"#000","opacity":0.6,"strokeWidth":1.4},"encoding":{"x2":{"field":"x2"}}},
{"data":{"name":"void"},"mark":{"type":"rect","color":"#e9e9e9"},"encoding":{"x2":{"field":"x2"},"y2":{"field":"y2"}}},
{"data":{"name":"die"},"mark":{"type":"rect","color":"#0b0b0b"},"encoding":{"x2":{"field":"x2"},"y2":{"field":"y2"}}},
{"data":{"name":"dots"},"mark":{"type":"circle","size":60,"color":"#ececec","opacity":1}},
{"data":{"values":[{"x":411,"y":-22,"t":"TP2_Resistance"}]},"mark":{"type":"text","fontSize":16,"color":"#555"},"encoding":{"text":{"field":"t"}}}
]},
{"width":240,"height":298,"view":{"stroke":null},"data":{"values":[{"x":0}]},"mark":{"type":"rule","opacity":0},"encoding":{}},
{"width":383,"height":298,"view":{"fill":"#0b0b0b","stroke":"#777"},"encoding":{"x":{"field":"x","type":"quantitative","scale":{"domain":[0,840],"nice":false,"zero":false},"axis":{"values":[0,200,400,600,800],"title":"x px"}},"y":{"field":"y","type":"quantitative","scale":{"domain":[0,840],"reverse":true,"nice":false,"zero":false},"axis":{"values":[0,100,200,300,400,500,600,700,800],"title":"y px"}}},"layer":[
{"data":{"name":"hatch"},"mark":{"type":"rule","clip":true,"color":"#6e6e6e","strokeWidth":0.7},"encoding":{"x2":{"field":"x2"},"y2":{"field":"y2"}}},
{"data":{"name":"tp2"},"mark":{"type":"rect","width":14.2,"height":11.1},"encoding":{"color":{"field":"v","type":"quantitative","scale":{"domain":[4.025,4.144,4.392,4.565,4.726,4.985,5.104],"range":["#00007f","#0000f5","#00f0ff","#7cff7a","#ffff00","#ff0000","#7f0000"],"interpolate":"rgb"},"legend":null}}},
{"data":{"name":"gridV"},"mark":{"type":"rule","color":"#000","opacity":0.5,"strokeWidth":1.2},"encoding":{"y2":{"field":"y2"}}},
{"data":{"name":"gridH"},"mark":{"type":"rule","color":"#000","opacity":0.5,"strokeWidth":1.2},"encoding":{"x2":{"field":"x2"}}},
{"data":{"name":"heavyV"},"mark":{"type":"rule","color":"#000","opacity":0.6,"strokeWidth":1.4},"encoding":{"y2":{"field":"y2"}}},
{"data":{"name":"void"},"mark":{"type":"rect","color":"#e9e9e9"},"encoding":{"x2":{"field":"x2"},"y2":{"field":"y2"}}},
{"data":{"name":"die"},"mark":{"type":"rect","color":"#0b0b0b"},"encoding":{"x2":{"field":"x2"},"y2":{"field":"y2"}}},
{"data":{"name":"dots"},"mark":{"type":"circle","size":60,"color":"#ececec","opacity":1}},
{"data":{"values":[{"x":407,"y":-22,"t":"TP3_Resistance"}]},"mark":{"type":"text","fontSize":16,"color":"#555"},"encoding":{"text":{"field":"t"}}}
]}
],"spacing":10,"bounds":"flush","resolve":{"scale":{"color":"independent"},"legend":{"color":"independent"}}},
{"hconcat":[
{"width":67,"height":298,"view":{"stroke":null},"data":{"values":[{"x":0}]},"mark":{"type":"rule","opacity":0},"encoding":{}},
{"width":401,"height":308,"view":{"fill":"#0b0b0b","stroke":"#777"},"encoding":{"x":{"field":"x","type":"quantitative","scale":{"domain":[0,868],"nice":false,"zero":false},"axis":{"values":[0,200,400,600,800],"title":"x px"}},"y":{"field":"y","type":"quantitative","scale":{"domain":[0,835],"reverse":true,"nice":false,"zero":false},"axis":{"values":[0,100,200,300,400,500,600,700,800],"title":"y px"}}},"layer":[
{"data":{"values":[{"x":0,"y":-244,"y2":0}]},"mark":{"type":"rule","opacity":0},"encoding":{"y2":{"field":"y2"}}},
{"data":{"name":"hatch"},"mark":{"type":"rule","clip":true,"color":"#6e6e6e","strokeWidth":0.7},"encoding":{"x2":{"field":"x2"},"y2":{"field":"y2"}}},
{"data":{"name":"h1"},"mark":{"type":"rect","width":14.7,"height":11.4},"encoding":{"color":{"field":"v","type":"quantitative","scale":{"domain":[453,468,500,521.5,541,575,590],"range":["#00007f","#0000f5","#00f0ff","#7cff7a","#ffff00","#ff0000","#7f0000"],"interpolate":"rgb"},"legend":{"orient":"none","legendX":427,"legendY":-67,"title":"Ω","titleFontSize":30,"titleFontWeight":"normal","titleColor":"#444","titlePadding":3,"gradientLength":383,"gradientThickness":24,"values":[460,480,500,520,540,560,580],"labelFontSize":12,"labelColor":"#5a5a5a","labelOffset":4,"labelOverlap":false}}}},
{"data":{"name":"gridV"},"mark":{"type":"rule","color":"#000","opacity":0.5,"strokeWidth":1.2},"encoding":{"y2":{"field":"y2"}}},
{"data":{"name":"gridH"},"mark":{"type":"rule","color":"#000","opacity":0.5,"strokeWidth":1.2},"encoding":{"x2":{"field":"x2"}}},
{"data":{"name":"heavyV"},"mark":{"type":"rule","color":"#000","opacity":0.6,"strokeWidth":1.4},"encoding":{"y2":{"field":"y2"}}},
{"data":{"name":"heavyH"},"mark":{"type":"rule","color":"#000","opacity":0.6,"strokeWidth":1.4},"encoding":{"x2":{"field":"x2"}}},
{"data":{"name":"voidH"},"mark":{"type":"rect","color":"#e9e9e9"},"encoding":{"x2":{"field":"x2"},"y2":{"field":"y2"}}},
{"data":{"name":"dieH"},"mark":{"type":"rect","color":"#0b0b0b"},"encoding":{"x2":{"field":"x2"},"y2":{"field":"y2"}}},
{"data":{"name":"dotsH"},"mark":{"type":"circle","size":60,"color":"#ececec","opacity":1}},
{"data":{"values":[{"x":426,"y":-22,"t":"H1_Resistance"}]},"mark":{"type":"text","fontSize":16,"color":"#555"},"encoding":{"text":{"field":"t"}}},
{"data":{"values":[{"x":-199,"x2":19.5,"y":13.5,"y2":935}]},"mark":{"type":"rect","color":"#014f63"},"encoding":{"x2":{"field":"x2"},"y2":{"field":"y2"}}},
{"data":{"values":[{"x":-199,"y":932,"t":"ker"}]},"mark":{"type":"text","font":"Open Sans","fontSize":36,"color":"#eef4f5","align":"left","baseline":"alphabetic"},"encoding":{"text":{"field":"t"}}}
]},
{"width":226,"height":298,"view":{"stroke":null},"data":{"values":[{"x":0}]},"mark":{"type":"rule","opacity":0},"encoding":{}},
{"width":402,"height":308,"view":{"fill":"#0b0b0b","stroke":"#777"},"encoding":{"x":{"field":"x","type":"quantitative","scale":{"domain":[0,868],"nice":false,"zero":false},"axis":{"values":[0,200,400,600,800],"title":"x px"}},"y":{"field":"y","type":"quantitative","scale":{"domain":[0,835],"reverse":true,"nice":false,"zero":false},"axis":{"values":[0,100,200,300,400,500,600,700,800],"title":"y px"}}},"layer":[
{"data":{"name":"hatch"},"mark":{"type":"rule","clip":true,"color":"#6e6e6e","strokeWidth":0.7},"encoding":{"x2":{"field":"x2"},"y2":{"field":"y2"}}},
{"data":{"name":"h2"},"mark":{"type":"rect","width":14.7,"height":11.4},"encoding":{"color":{"field":"v","type":"quantitative","scale":{"domain":[453,468,500,521.5,541,575,590],"range":["#00007f","#0000f5","#00f0ff","#7cff7a","#ffff00","#ff0000","#7f0000"],"interpolate":"rgb"},"legend":{"orient":"none","legendX":427,"legendY":-69,"title":"Ω","titleFontSize":30,"titleFontWeight":"normal","titleColor":"#444","titlePadding":3,"gradientLength":385,"gradientThickness":24,"values":[460,480,500,520,540,560,580],"labelFontSize":12,"labelColor":"#5a5a5a","labelOffset":4,"labelOverlap":false}}}},
{"data":{"name":"gridV"},"mark":{"type":"rule","color":"#000","opacity":0.5,"strokeWidth":1.2},"encoding":{"y2":{"field":"y2"}}},
{"data":{"name":"gridH"},"mark":{"type":"rule","color":"#000","opacity":0.5,"strokeWidth":1.2},"encoding":{"x2":{"field":"x2"}}},
{"data":{"name":"heavyV"},"mark":{"type":"rule","color":"#000","opacity":0.6,"strokeWidth":1.4},"encoding":{"y2":{"field":"y2"}}},
{"data":{"name":"heavyH"},"mark":{"type":"rule","color":"#000","opacity":0.6,"strokeWidth":1.4},"encoding":{"x2":{"field":"x2"}}},
{"data":{"name":"voidH"},"mark":{"type":"rect","color":"#e9e9e9"},"encoding":{"x2":{"field":"x2"},"y2":{"field":"y2"}}},
{"data":{"name":"dieH"},"mark":{"type":"rect","color":"#0b0b0b"},"encoding":{"x2":{"field":"x2"},"y2":{"field":"y2"}}},
{"data":{"name":"dotsH"},"mark":{"type":"circle","size":60,"color":"#ececec","opacity":1}},
{"data":{"values":[{"x":428,"y":-22,"t":"H2_Resistance"}]},"mark":{"type":"text","fontSize":16,"color":"#555"},"encoding":{"text":{"field":"t"}}}
]}
],"spacing":10,"bounds":"flush","resolve":{"scale":{"color":"independent"},"legend":{"color":"independent"}}}
],"spacing":8,"resolve":{"scale":{"color":"independent"},"legend":{"color":"independent"}},
"config":{"font":"DejaVu Sans","axis":{"grid":false,"ticks":false,"domain":false,"labelFlush":false,"labelOverlap":false,"labelColor":"#5a5a5a","titleColor":"#5a5a5a","labelFontSize":12,"titleFontSize":11,"titleFontWeight":"normal","labelPadding":5,"titlePadding":3}}
}
